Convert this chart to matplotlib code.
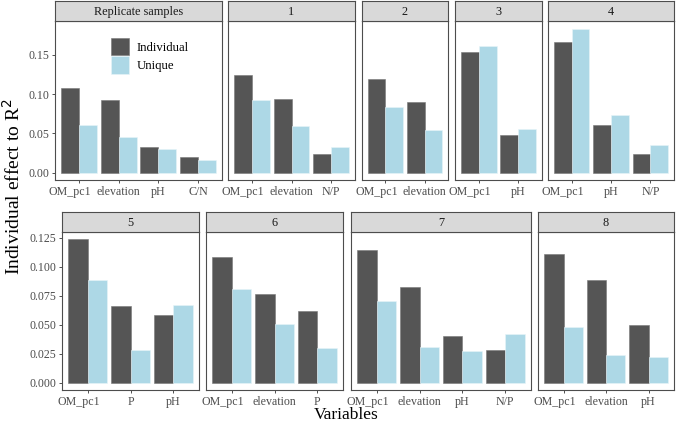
import numpy as np
import matplotlib.pyplot as plt
from matplotlib.patches import Patch

plt.rcParams['font.family'] = ['Liberation Serif', 'DejaVu Serif']

# facet titles, variables and values
panels_top = ['Replicate samples', '1', '2', '3', '4']
panels_bot = ['5', '6', '7', '8']

variables = {
    'Replicate samples': ['OM_pc1', 'elevation', 'pH', 'C/N'],
    '1': ['OM_pc1', 'elevation', 'N/P'],
    '2': ['OM_pc1', 'elevation'],
    '3': ['OM_pc1', 'pH'],
    '4': ['OM_pc1', 'pH', 'N/P'],
    '5': ['OM_pc1', 'P', 'pH'],
    '6': ['OM_pc1', 'elevation', 'P'],
    '7': ['OM_pc1', 'elevation', 'pH', 'N/P'],
    '8': ['OM_pc1', 'elevation', 'pH'],
}
individual = {
    'Replicate samples': [0.108, 0.093, 0.0326, 0.0199],
    '1': [0.124, 0.0932, 0.0233],
    '2': [0.1195, 0.0898],
    '3': [0.1534, 0.0479],
    '4': [0.166, 0.061, 0.0242],
    '5': [0.1236, 0.0664, 0.0581],
    '6': [0.1084, 0.0764, 0.0621],
    '7': [0.1141, 0.0824, 0.0406, 0.0283],
    '8': [0.1107, 0.0884, 0.0495],
}
unique = {
    'Replicate samples': [0.0606, 0.0453, 0.0297, 0.0157],
    '1': [0.0928, 0.0589, 0.0326],
    '2': [0.0835, 0.0542],
    '3': [0.161, 0.0555],
    '4': [0.183, 0.0729, 0.0352],
    '5': [0.0887, 0.0283, 0.0672],
    '6': [0.081, 0.0506, 0.030],
    '7': [0.0701, 0.0312, 0.0272, 0.0418],
    '8': [0.0483, 0.0243, 0.0226],
}

c_ind = '#555555'
c_uni = '#ADD8E6'
lab_col = '#4d4d4d'
lab_size = 8.6

W, H = 676, 423
fig = plt.figure(figsize=(W / 100, H / 100), dpi=100)

# pixel extents of panels (left, right) per row
top_x = [(55, 222), (228, 355), (362, 448), (455, 542), (548, 674)]
bot_x = [(62, 199), (206, 343), (351, 531), (538, 674)]


def draw_row(names, xs, strip_top, panel_top, panel_bot, ylim, yticks, yfmt):
    axes = []
    for i, (name, (x0, x1)) in enumerate(zip(names, xs)):
        ax = fig.add_axes([x0 / W, 1 - panel_bot / H, (x1 - x0) / W, (panel_bot - panel_top) / H])
        cats = variables[name]
        pos = np.arange(len(cats)) + 1
        ax.bar(pos - 0.225, individual[name], width=0.45, color=c_ind,
               edgecolor='#777777', linewidth=0.4)
        ax.bar(pos + 0.225, unique[name], width=0.45, color=c_uni,
               edgecolor='#e8f4f8', linewidth=0.4)
        ax.set_xlim(0.4, len(cats) + 0.6)
        ax.set_ylim(*ylim)
        ax.set_xticks(pos)
        # OM_pc1 sits a bit left of its tick in the reference, draw it by hand
        ax.set_xticklabels(['' if c == 'OM_pc1' else c for c in cats])
        for p, c in zip(pos, cats):
            if c == 'OM_pc1':
                ax.annotate(c, xy=(p, 0), xycoords=('data', 'axes fraction'),
                            xytext=(-6.5, -4.3), textcoords='offset points',
                            ha='center', va='top', fontsize=lab_size, color=lab_col)
        ax.tick_params(length=2.5, width=0.6, color='#333333', labelcolor=lab_col,
                       labelsize=lab_size, pad=1.5)
        if i == 0:
            ax.set_yticks(yticks)
            ax.set_yticklabels([yfmt % v for v in yticks])
        else:
            ax.set_yticks([])
        for s in ax.spines.values():
            s.set_color('#4d4d4d')
            s.set_linewidth(0.8)
        # strip
        sa = fig.add_axes([x0 / W, 1 - panel_top / H, (x1 - x0) / W, (panel_top - strip_top) / H])
        sa.set_facecolor('#d9d9d9')
        sa.set_xticks([])
        sa.set_yticks([])
        for s in sa.spines.values():
            s.set_color('#4d4d4d')
            s.set_linewidth(0.8)
        sa.text(0.5, 0.45, name, ha='center', va='center', fontsize=8.8,
                color='#1a1a1a', transform=sa.transAxes)
        axes.append(ax)
    return axes


top_axes = draw_row(panels_top, top_x, 1, 21, 180, (-0.0092, 0.193),
                    [0.0, 0.05, 0.10, 0.15], '%.2f')
bot_axes = draw_row(panels_bot, bot_x, 212, 232, 390, (-0.0062, 0.1298),
                    [0.0, 0.025, 0.05, 0.075, 0.10, 0.125], '%.3f')

handles = [Patch(facecolor=c_ind, edgecolor='#777777', linewidth=0.4, label='Individual'),
           Patch(facecolor=c_uni, edgecolor='#e8f4f8', linewidth=0.4, label='Unique')]
top_axes[0].legend(handles=handles, loc='upper left', bbox_to_anchor=(0.295, 0.935),
                   frameon=False, fontsize=9.2, handlelength=1.42, handleheight=1.7,
                   handletextpad=0.6, labelspacing=0.1, borderpad=0)

fig.text(13 / W, 1 - 187 / H, 'Individual effect to R$^2$', rotation=90,
         ha='center', va='center', fontsize=14)
fig.text(346 / W, 1 - 415 / H, 'Variables', ha='center', va='center', fontsize=12.5)

fig.savefig('out.png', dpi=100)
